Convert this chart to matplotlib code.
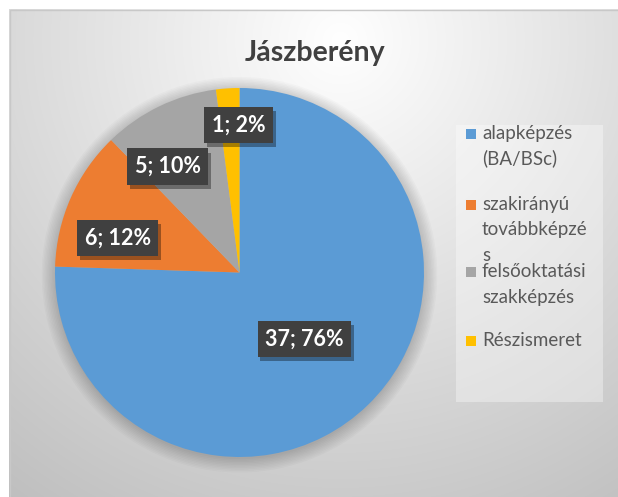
import matplotlib
matplotlib.use("Agg")
import matplotlib.pyplot as plt
import matplotlib.patheffects as pe
from matplotlib.patches import Rectangle, Circle
import numpy as np

plt.rcParams['font.family'] = ['Lato', 'DejaVu Sans']

# data
title = 'Jászberény'
categories = ['alapképzés (BA/BSc)', 'szakirányú továbbképzés',
              'felsőoktatási szakképzés', 'Részismeret']
legend_lines = [['alapképzés', '(BA/BSc)'],
                ['szakirányú', 'továbbképzé', 's'],
                ['felsőoktatási', 'szakképzés'],
                ['Részismeret']]
counts = [37, 6, 5, 1]
percents = [76, 12, 10, 2]
colors = ['#5B9BD5', '#ED7D31', '#A5A5A5', '#FFC000']

W, H = 618, 497
fig = plt.figure(figsize=(W / 100, H / 100), dpi=100)
fig.patch.set_facecolor('white')

# background axes in pixel coords
bg = fig.add_axes([0, 0, 1, 1])
bg.set_xlim(0, W)
bg.set_ylim(H, 0)
bg.axis('off')

yy, xx = np.mgrid[0:H, 0:W]
d = np.hypot(xx - 340, yy - 40)
val = np.clip(255 - 0.114 * d, 185, 255) / 255.0
img = np.dstack([val, val, val])
img[:9, :, :] = 1.0
img[:, :9, :] = 1.0
bg.imshow(img, extent=(0, W, H, 0), interpolation='bilinear', zorder=0)
bg.add_patch(Rectangle((9.5, 9.5), W - 9, H - 9, fill=False,
                       edgecolor='#c8c8c8', lw=1, zorder=1))

bg.text(315, 53, title, fontsize=20.5, fontweight='bold', color='#404040',
        ha='center', va='center', zorder=2)

# legend box and entries
bg.add_patch(Rectangle((456, 125), 147, 277, facecolor='white', alpha=0.35,
                       edgecolor='none', zorder=1))
first_baselines = [139, 210, 277, 346]
for i, lines in enumerate(legend_lines):
    y0 = first_baselines[i]
    bg.add_patch(Rectangle((466, y0 - 10), 10, 10, facecolor=colors[i],
                           edgecolor='none', zorder=2))
    for j, line in enumerate(lines):
        bg.text(482, y0 + j * 25.5, line, fontsize=13.5, color='#595959',
                ha='left', va='baseline', zorder=3)

# pie
cx, cy, r = 239.5, 272.5, 184.5
ax = fig.add_axes([(cx - r) / W, (H - cy - r) / H, 2 * r / W, 2 * r / H])
ax.set_facecolor('none')

# soft shadow around pie
for k in range(10):
    ax.add_patch(Circle((0.0, -0.012), 1.0 + k * 0.008, facecolor='black',
                        alpha=0.018, edgecolor='none', clip_on=False, zorder=0))

wedges, _ = ax.pie(counts, colors=colors, startangle=90, counterclock=False,
                   radius=1.0, wedgeprops=dict(linewidth=0, zorder=2))
ax.set_xlim(-1, 1)
ax.set_ylim(-1, 1)
ax.axis('off')

# label placement (Excel best-fit): distance from centre and angle shift
label_dist = [0.504, 0.685, 0.694, 0.80]
label_shift = [0.3, 8.1, 8.4, -3.3]
shadow = [pe.withSimplePatchShadow(offset=(2, -3), shadow_rgbFace='black', alpha=0.35)]
for w, c, p, dist, sh in zip(wedges, counts, percents, label_dist, label_shift):
    ang = np.deg2rad((w.theta1 + w.theta2) / 2 + sh)
    t = ax.text(dist * np.cos(ang), dist * np.sin(ang), f'{c}; {p}%',
                fontsize=15.5, fontweight='bold', color='white',
                ha='center', va='center', zorder=5,
                bbox=dict(boxstyle='square,pad=0.35', facecolor='#404040',
                          edgecolor='none'))
    t.get_bbox_patch().set_path_effects(shadow)

fig.savefig('out.png', dpi=100)
